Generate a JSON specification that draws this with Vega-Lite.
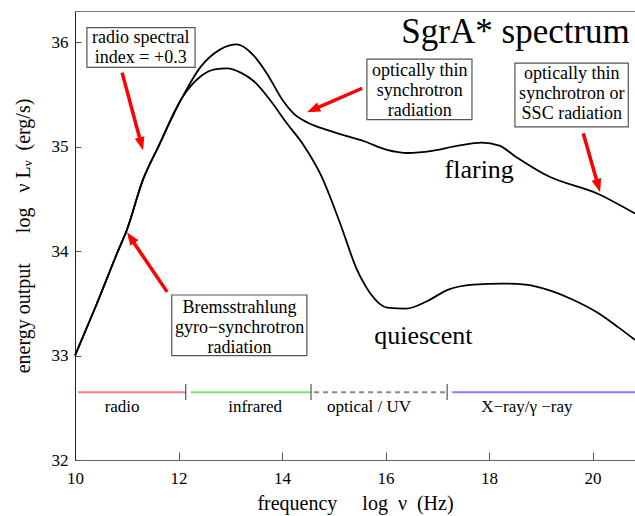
{
  "$schema": "https://vega.github.io/schema/vega-lite/v6.json",
  "width": 560,
  "height": 449,
  "autosize": "none",
  "padding": {"left": 75, "top": 11, "right": 0, "bottom": 56},
  "background": "white",
  "config": {
    "view": {"stroke": "#777", "strokeWidth": 1},
    "font": "Liberation Serif",
    "text": {"font": "Liberation Serif"},
    "axis": {"grid": false, "labelFont": "Liberation Serif", "titleFont": "Liberation Serif", "labelColor": "black", "titleColor": "black", "titleFontWeight": "normal", "tickColor": "#555", "labelFontSize": 17, "titleFontSize": 20}
  },
  "datasets": {
    "curves": [
      {"series": "flaring", "nu": 10.0, "L": 33.0},
      {"series": "flaring", "nu": 10.4, "L": 33.47},
      {"series": "flaring", "nu": 10.83, "L": 34.0},
      {"series": "flaring", "nu": 11.0, "L": 34.2},
      {"series": "flaring", "nu": 11.31, "L": 34.68},
      {"series": "flaring", "nu": 11.6, "L": 34.99},
      {"series": "flaring", "nu": 12.07, "L": 35.47},
      {"series": "flaring", "nu": 12.42, "L": 35.76},
      {"series": "flaring", "nu": 12.8, "L": 35.93},
      {"series": "flaring", "nu": 13.13, "L": 35.98},
      {"series": "flaring", "nu": 13.44, "L": 35.88},
      {"series": "flaring", "nu": 13.71, "L": 35.7},
      {"series": "flaring", "nu": 14.02, "L": 35.44},
      {"series": "flaring", "nu": 14.22, "L": 35.32},
      {"series": "flaring", "nu": 14.5, "L": 35.23},
      {"series": "flaring", "nu": 14.75, "L": 35.18},
      {"series": "flaring", "nu": 15.06, "L": 35.13},
      {"series": "flaring", "nu": 15.6, "L": 35.05},
      {"series": "flaring", "nu": 16.03, "L": 34.97},
      {"series": "flaring", "nu": 16.43, "L": 34.94},
      {"series": "flaring", "nu": 16.9, "L": 34.96},
      {"series": "flaring", "nu": 17.4, "L": 35.01},
      {"series": "flaring", "nu": 17.86, "L": 35.04},
      {"series": "flaring", "nu": 18.2, "L": 35.01},
      {"series": "flaring", "nu": 18.5, "L": 34.91},
      {"series": "flaring", "nu": 19.14, "L": 34.72},
      {"series": "flaring", "nu": 20.1, "L": 34.55},
      {"series": "flaring", "nu": 20.82, "L": 34.36},
      {"series": "quiescent", "nu": 10.0, "L": 33.0},
      {"series": "quiescent", "nu": 10.4, "L": 33.47},
      {"series": "quiescent", "nu": 10.83, "L": 34.0},
      {"series": "quiescent", "nu": 11.0, "L": 34.2},
      {"series": "quiescent", "nu": 11.31, "L": 34.68},
      {"series": "quiescent", "nu": 11.6, "L": 34.99},
      {"series": "quiescent", "nu": 12.07, "L": 35.47},
      {"series": "quiescent", "nu": 12.42, "L": 35.67},
      {"series": "quiescent", "nu": 12.7, "L": 35.74},
      {"series": "quiescent", "nu": 12.94, "L": 35.75},
      {"series": "quiescent", "nu": 13.2, "L": 35.71},
      {"series": "quiescent", "nu": 13.45, "L": 35.63},
      {"series": "quiescent", "nu": 13.75, "L": 35.46},
      {"series": "quiescent", "nu": 14.1, "L": 35.22},
      {"series": "quiescent", "nu": 14.41, "L": 35.02},
      {"series": "quiescent", "nu": 14.75, "L": 34.73},
      {"series": "quiescent", "nu": 15.12, "L": 34.27},
      {"series": "quiescent", "nu": 15.45, "L": 33.82},
      {"series": "quiescent", "nu": 15.7, "L": 33.6},
      {"series": "quiescent", "nu": 16.03, "L": 33.46},
      {"series": "quiescent", "nu": 16.4, "L": 33.45},
      {"series": "quiescent", "nu": 16.8, "L": 33.52},
      {"series": "quiescent", "nu": 17.2, "L": 33.63},
      {"series": "quiescent", "nu": 17.7, "L": 33.68},
      {"series": "quiescent", "nu": 18.25, "L": 33.69},
      {"series": "quiescent", "nu": 18.7, "L": 33.68},
      {"series": "quiescent", "nu": 19.14, "L": 33.63},
      {"series": "quiescent", "nu": 19.6, "L": 33.54},
      {"series": "quiescent", "nu": 20.1, "L": 33.41},
      {"series": "quiescent", "nu": 20.5, "L": 33.27},
      {"series": "quiescent", "nu": 20.82, "L": 33.15}
    ],
    "bands": [
      {"band": "radio", "start": 10.06, "end": 12.14, "level": 32.65, "mid": 10.91},
      {"band": "infrared", "start": 12.24, "end": 14.56, "level": 32.65, "mid": 13.48},
      {"band": "optical / UV", "start": 14.62, "end": 17.15, "level": 32.65, "mid": 15.68},
      {"band": "X−ray/γ −ray", "start": 17.29, "end": 20.82, "level": 32.65, "mid": 18.73}
    ],
    "bandticks": [
      {"nu": 12.14, "lo": 32.574, "hi": 32.727},
      {"nu": 14.56, "lo": 32.574, "hi": 32.727},
      {"nu": 17.19, "lo": 32.574, "hi": 32.727}
    ],
    "boxes": [
      {"id": "a", "x1": 10.23, "x2": 12.32, "y1": 35.76, "y2": 36.14, "cx": 11.27, "cy": 36.04, "text": "radio spectral\nindex = +0.3"},
      {"id": "c", "x1": 15.64, "x2": 17.67, "y1": 35.26, "y2": 35.84, "cx": 16.66, "cy": 35.73, "text": "optically thin\nsynchrotron\nradiation"},
      {"id": "d", "x1": 18.5, "x2": 20.69, "y1": 35.19, "y2": 35.8, "cx": 19.6, "cy": 35.7, "text": "optically thin\nsynchrotron or\nSSC radiation"},
      {"id": "b", "x1": 11.87, "x2": 14.48, "y1": 33.0, "y2": 33.58, "cx": 13.18, "cy": 33.46, "text": "Bremsstrahlung\ngyro−synchrotron\nradiation"}
    ],
    "arrows": [
      {"id": "a", "x": 10.91, "y": 35.71, "xe": 11.283, "ye": 35.022, "tx": 11.314, "ty": 34.967},
      {"id": "b", "x": 11.78, "y": 33.61, "xe": 11.064, "ye": 34.134, "tx": 11.005, "ty": 34.182},
      {"id": "c", "x": 15.55, "y": 35.56, "xe": 14.589, "ye": 35.353, "tx": 14.483, "ty": 35.33},
      {"id": "d", "x": 19.82, "y": 35.13, "xe": 20.112, "ye": 34.62, "tx": 20.145, "ty": 34.565}
    ],
    "labels": [
      {"kind": "title", "text": "SgrA* spectrum", "x": 20.72, "y": 35.99},
      {"kind": "series", "text": "flaring", "x": 17.81, "y": 34.7},
      {"kind": "series", "text": "quiescent", "x": 16.73, "y": 33.11}
    ]
  },
  "layer": [
    {
      "data": {"name": "bands"},
      "mark": {"type": "rule", "strokeWidth": 2},
      "encoding": {
        "x": {"field": "start", "type": "quantitative", "scale": {"domain": [10, 20.82], "nice": false, "zero": false}, "axis": {"values": [10, 12, 14, 16, 18, 20], "format": "d", "title": "frequency\u00a0\u00a0\u00a0\u00a0\u00a0log\u00a0\u00a0ν\u00a0\u00a0(Hz)", "tickSize": -8, "labelPadding": 18, "titlePadding": 7, "domainColor": "#666", "labelFlush": false}},
        "x2": {"field": "end"},
        "y": {"field": "level", "type": "quantitative", "scale": {"domain": [32, 36.3], "nice": false, "zero": false}, "axis": {"values": [32, 33, 34, 35, 36], "format": "d", "title": "energy output\u00a0\u00a0\u00a0\u00a0\u00a0\u00a0log\u00a0\u00a0\u00a0ν\u00a0Lᵥ\u00a0\u00a0(erg/s)", "tickSize": -6, "labelPadding": 13, "titlePadding": 18, "domainColor": "#222", "labelFlush": false}},
        "color": {"field": "band", "type": "nominal", "scale": {"domain": ["radio", "infrared", "optical / UV", "X−ray/γ −ray"], "range": ["#f78080", "#80e080", "#888888", "#8080f8"]}, "legend": null},
        "strokeDash": {"field": "band", "type": "nominal", "scale": {"domain": ["radio", "infrared", "optical / UV", "X−ray/γ −ray"], "range": [[1, 0], [1, 0], [5, 4], [1, 0]]}, "legend": null}
      }
    },
    {
      "data": {"name": "bandticks"},
      "mark": {"type": "rule", "color": "#333", "strokeWidth": 1},
      "encoding": {"x": {"field": "nu", "type": "quantitative"}, "y": {"field": "lo", "type": "quantitative"}, "y2": {"field": "hi"}}
    },
    {
      "data": {"name": "bands"},
      "mark": {"type": "text", "font": "Liberation Serif", "fontSize": 17, "baseline": "alphabetic", "align": "center", "color": "black"},
      "encoding": {"x": {"field": "mid", "type": "quantitative"}, "y": {"datum": 32.46, "type": "quantitative"}, "text": {"field": "band"}}
    },
    {
      "data": {"name": "curves"},
      "mark": {"type": "line", "interpolate": "monotone", "color": "black", "strokeWidth": 1.8},
      "encoding": {"x": {"field": "nu", "type": "quantitative"}, "y": {"field": "L", "type": "quantitative"}, "detail": {"field": "series"}}
    },
    {
      "data": {"name": "boxes"},
      "mark": {"type": "rect", "fill": "white", "stroke": "#555", "strokeWidth": 1.2},
      "encoding": {"x": {"field": "x1", "type": "quantitative"}, "x2": {"field": "x2"}, "y": {"field": "y1", "type": "quantitative"}, "y2": {"field": "y2"}}
    },
    {
      "data": {"name": "boxes"},
      "mark": {"type": "text", "font": "Liberation Serif", "fontSize": 18, "lineBreak": "\n", "lineHeight": 20, "align": "center", "baseline": "middle", "color": "black"},
      "encoding": {"x": {"field": "cx", "type": "quantitative"}, "y": {"field": "cy", "type": "quantitative"}, "text": {"field": "text"}}
    },
    {
      "data": {"name": "arrows"},
      "mark": {"type": "rule", "color": "#ff0000", "strokeWidth": 3.5},
      "encoding": {"x": {"field": "x", "type": "quantitative"}, "y": {"field": "y", "type": "quantitative"}, "x2": {"field": "xe"}, "y2": {"field": "ye"}}
    },
    {
      "data": {"name": "arrows"},
      "transform": [{"filter": "datum.id == 'a'"}],
      "mark": {"type": "point", "shape": "M0,0L0.45,1.2L-0.45,1.2Z", "size": 484, "filled": true, "color": "#ff0000", "opacity": 1, "angle": 165},
      "encoding": {"x": {"field": "tx", "type": "quantitative"}, "y": {"field": "ty", "type": "quantitative"}}
    },
    {
      "data": {"name": "arrows"},
      "transform": [{"filter": "datum.id == 'b'"}],
      "mark": {"type": "point", "shape": "M0,0L0.45,1.2L-0.45,1.2Z", "size": 484, "filled": true, "color": "#ff0000", "opacity": 1, "angle": 326},
      "encoding": {"x": {"field": "tx", "type": "quantitative"}, "y": {"field": "ty", "type": "quantitative"}}
    },
    {
      "data": {"name": "arrows"},
      "transform": [{"filter": "datum.id == 'c'"}],
      "mark": {"type": "point", "shape": "M0,0L0.45,1.2L-0.45,1.2Z", "size": 484, "filled": true, "color": "#ff0000", "opacity": 1, "angle": 246},
      "encoding": {"x": {"field": "tx", "type": "quantitative"}, "y": {"field": "ty", "type": "quantitative"}}
    },
    {
      "data": {"name": "arrows"},
      "transform": [{"filter": "datum.id == 'd'"}],
      "mark": {"type": "point", "shape": "M0,0L0.45,1.2L-0.45,1.2Z", "size": 484, "filled": true, "color": "#ff0000", "opacity": 1, "angle": 164},
      "encoding": {"x": {"field": "tx", "type": "quantitative"}, "y": {"field": "ty", "type": "quantitative"}}
    },
    {
      "data": {"name": "labels"},
      "transform": [{"filter": "datum.kind == 'title'"}],
      "mark": {"type": "text", "font": "Liberation Serif", "fontSize": 35, "align": "right", "baseline": "alphabetic", "color": "black"},
      "encoding": {"x": {"field": "x", "type": "quantitative"}, "y": {"field": "y", "type": "quantitative"}, "text": {"field": "text"}}
    },
    {
      "data": {"name": "labels"},
      "transform": [{"filter": "datum.kind == 'series'"}],
      "mark": {"type": "text", "font": "Liberation Serif", "fontSize": 26, "align": "center", "baseline": "alphabetic", "color": "black"},
      "encoding": {"x": {"field": "x", "type": "quantitative"}, "y": {"field": "y", "type": "quantitative"}, "text": {"field": "text"}}
    }
  ]
}
